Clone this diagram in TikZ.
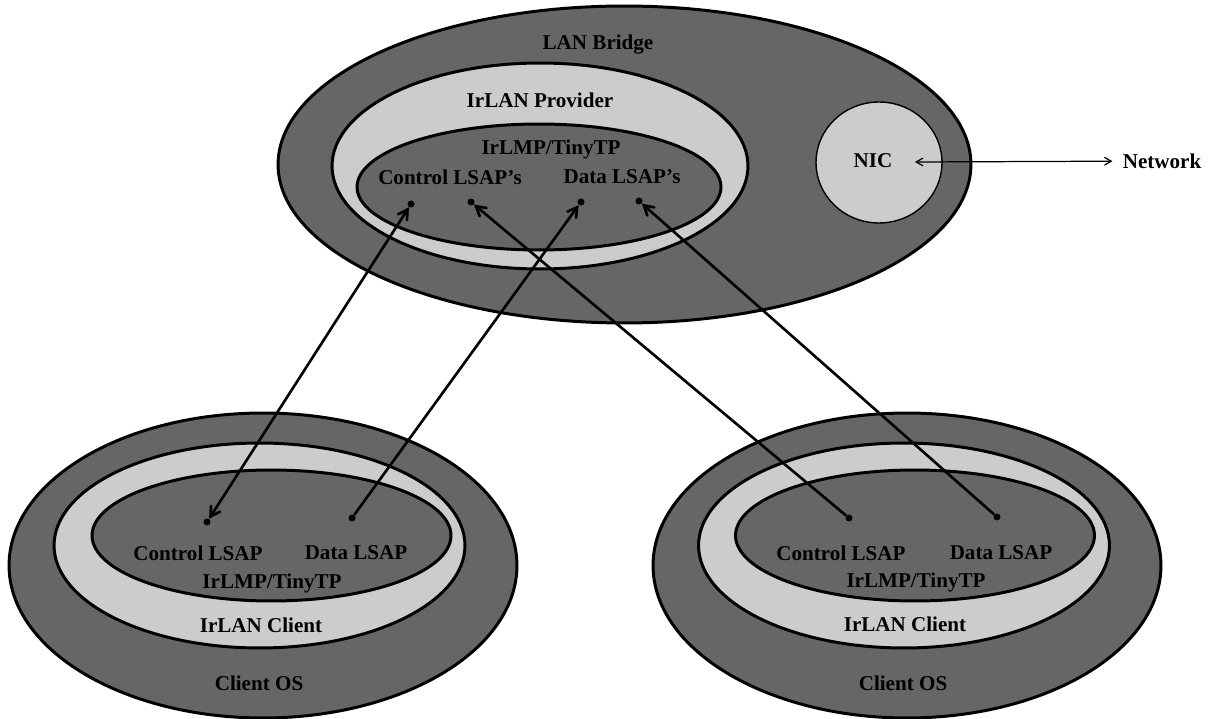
\documentclass[tikz,border=0pt]{standalone}
\usepackage{fontspec}
\setmainfont{Liberation Serif}
\usepackage{tikz}
\usetikzlibrary{shapes,arrows}
\definecolor{osgray}{RGB}{102,102,102}
\definecolor{irgray}{RGB}{204,204,204}
\tikzset{
  layer/.style    = {ellipse, draw, line width=1.7pt, inner sep=0pt},
  oslayer/.style  = {layer, fill=osgray},
  irlayer/.style  = {layer, fill=irgray},
  nicbox/.style   = {ellipse, draw, line width=0.8pt, fill=irgray, inner sep=0pt},
  caption/.style  = {font=\bfseries\fontsize{12}{14}\selectfont, inner sep=1pt},
  lsap/.style     = {circle, fill=black, inner sep=0pt, minimum size=0.14cm},
  lsaplink/.style = {black, line width=1.5pt, ->, >=angle 60},
  lsapboth/.style = {black, line width=1.5pt, <->, >=angle 60},
  netlink/.style  = {black, line width=0.7pt, <->, >=angle 60},
}

\begin{document}
\begin{tikzpicture}[x=0.02cm,y=-0.02cm]
      \useasboundingbox (0,0) rectangle (1211,719);

      \node [oslayer, minimum width=13.86cm, minimum height=6.34cm] (bridge) at (624.5,164.5) {};
      \node [irlayer, minimum width=8.32cm, minimum height=4.12cm] (prov) at (540,166) {};
      \node [oslayer, minimum width=7.28cm, minimum height=2.52cm] (lmp) at (539,187) {};
      \node [nicbox, minimum width=2.52cm, minimum height=2.42cm] (nic) at (879,162.5) {};

      \node [caption] (bridgetxt) at (598,45) {LAN Bridge};
      \node [caption] (provtxt) at (540,100) {IrLAN Provider};
      \node [caption] (lmptxt) at (551,149) {IrLMP/TinyTP};
      \node [caption] (ctrltxt) at (450,177) {Control LSAP’s};
      \node [caption] (datatxt) at (622,177) {Data LSAP’s};
      \node [caption] (nictxt) at (873,161) {NIC};
      \node [caption, inner sep=0.2cm] (net) at (1162,161) {Network};
      \coordinate (nicport) at (915,162);

      \node [oslayer, minimum width=10.16cm, minimum height=6.10cm] (osl) at (263,565.5) {};
      \node [irlayer, minimum width=8.22cm, minimum height=4.10cm] (clientl) at (259.5,545.5) {};
      \node [oslayer, minimum width=7.18cm, minimum height=2.62cm] (lmpl) at (271.5,535.5) {};
      \node [caption] at (198,553) {Control LSAP};
      \node [caption] at (356,553) {Data LSAP};
      \node [caption] at (272,583) {IrLMP/TinyTP};
      \node [caption] at (261,625) {IrLAN Client};
      \node [caption] at (259,683) {Client OS};

      \node [oslayer, minimum width=10.16cm, minimum height=6.10cm] (osr) at (907,565.5) {};
      \node [irlayer, minimum width=8.22cm, minimum height=4.10cm] (clientr) at (904,545.5) {};
      \node [oslayer, minimum width=7.18cm, minimum height=2.62cm] (lmpr) at (915,535.5) {};
      \node [caption] at (841,553) {Control LSAP};
      \node [caption] at (1001,553) {Data LSAP};
      \node [caption] at (916,582) {IrLMP/TinyTP};
      \node [caption] at (905,624) {IrLAN Client};
      \node [caption] at (903,683) {Client OS};

      \node [lsap] (c1) at (411,204) {};
      \node [lsap] (c2) at (471,202) {};
      \node [lsap] (d1) at (581,202) {};
      \node [lsap] (d2) at (639,201) {};
      \node [lsap] (lc) at (207,522) {};
      \node [lsap] (ld) at (352,518) {};
      \node [lsap] (rc) at (849,518) {};
      \node [lsap] (rd) at (997,517) {};

      \path (lc) edge[lsapboth] (c1);
      \path (ld) edge[lsaplink] (d1);
      \path (rc) edge[lsaplink] (c2);
      \path (rd) edge[lsaplink] (d2);
      \path (nicport) edge[netlink] (net);
\end{tikzpicture}
\end{document}
